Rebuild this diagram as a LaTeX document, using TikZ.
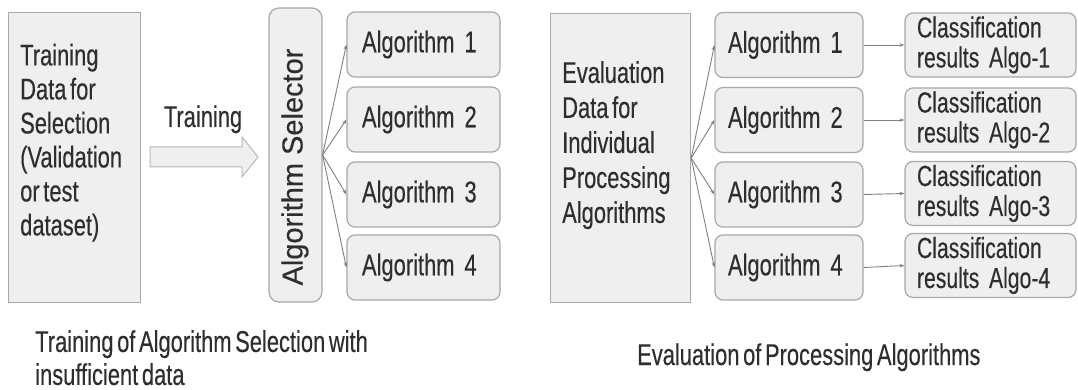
\documentclass[tikz,border=0pt]{standalone}
\usepackage{fontspec}
\setmainfont{Liberation Sans}[FakeStretch=0.73, FakeBold=0.3, WordSpace=0.6]
\newfontfamily\selfont{Liberation Sans}[FakeBold=0.3]
\usetikzlibrary{arrows.meta}
\definecolor{boxfill}{HTML}{EFEFEF}
\definecolor{boxline}{HTML}{A8A8A8}
\definecolor{txtcol}{HTML}{2E2E2E}
\definecolor{conncol}{HTML}{808080}
\tikzset{
  plainbox/.style={draw=boxline, fill=boxfill, line width=1.2pt, inner sep=0pt, anchor=north west},
  roundbox/.style={draw=boxline, fill=boxfill, line width=1.2pt, rounded corners=8pt, inner ysep=0pt, align=left, text=txtcol},
  algbox/.style={roundbox, minimum width=153pt, minimum height=65pt, inner xsep=15pt, text width=123pt, font=\fontsize{30}{34}\selectfont},
  algboxr/.style={roundbox, minimum width=148pt, minimum height=65pt, inner xsep=13pt, text width=122pt, font=\fontsize{30}{34}\selectfont},
  clsbox/.style={roundbox, minimum width=171pt, minimum height=64pt, inner xsep=12pt, text width=147pt, font=\fontsize{29}{30}\selectfont},
  txt/.style={inner sep=0pt, align=left, text=txtcol, font=\fontsize{30}{34}\selectfont},
  conn/.style={draw=conncol, line width=0.9pt, -{Stealth[length=5pt,width=3.5pt]}},
  blockarrow/.style={draw=boxline!80, fill=boxfill, line width=1pt},
}
\begin{document}
\begin{tikzpicture}[x=1pt,y=-1pt]
\useasboundingbox (0,0) rectangle (1078,390);
% left data box
\node[plainbox, minimum width=132pt, minimum height=290pt] (train) at (8,12) {};
\node[txt, anchor=north west] (traintxt) at (20,43.5) {Training\\Data for\\Selection\\(Validation\\or test\\dataset)};
% training arrow
\draw[blockarrow] (150,147) -- (242,147) -- (242,137) -- (258,157) -- (242,177) -- (242,167) -- (150,167) -- cycle;
\node[txt, anchor=base] (trainlbl) at (203,127) {Training};
% selector
\node[draw=boxline, fill=boxfill, line width=1.2pt, rounded corners=10pt, minimum width=53pt, minimum height=294pt, inner sep=0pt] (sel) at (295.5,155) {};
\node[inner sep=0pt, rotate=90, text=txtcol, font=\selfont\fontsize{29}{34}\selectfont] (seltxt) at (295,167) {Algorithm Selector};
% algorithm boxes (left)
\node[algbox] (a1) at (423.5,44.5) {Algorithm 1};
\node[algbox] (a2) at (423.5,119.5) {Algorithm 2};
\node[algbox] (a3) at (423.5,194.5) {Algorithm 3};
\node[algbox] (a4) at (423.5,267.5) {Algorithm 4};
\foreach \i in {1,2,3,4} \draw[conn] (sel.east) -- (a\i.west);
% evaluation box
\node[plainbox, minimum width=140pt, minimum height=289pt] (eval) at (550,13) {};
\node[txt, anchor=north west, font=\fontsize{30}{35}\selectfont] (evaltxt) at (562,61) {Evaluation\\Data for\\Individual\\Processing\\Algorithms};
% algorithm boxes (right)
\node[algboxr] (b1) at (789,45) {Algorithm 1};
\node[algboxr] (b2) at (789,120) {Algorithm 2};
\node[algboxr] (b3) at (789,194.5) {Algorithm 3};
\node[algboxr] (b4) at (789,267.5) {Algorithm 4};
\foreach \i in {1,2,3,4} \draw[conn] (eval.east) -- (b\i.west);
% classification boxes
\node[clsbox] (c1) at (990.5,45) {Classification\\results Algo-1};
\node[clsbox] (c2) at (990.5,120) {Classification\\results Algo-2};
\node[clsbox] (c3) at (990.5,193.5) {Classification\\results Algo-3};
\node[clsbox] (c4) at (990.5,265.5) {Classification\\results Algo-4};
\foreach \i in {1,2,3,4} \draw[conn] (b\i.east) -- (c\i.west);
% captions
\node[txt, anchor=north west, font=\fontsize{30}{33}\selectfont] (cap1) at (35,330) {Training of Algorithm Selection with\\insufficient data};
\node[txt, anchor=base west] (cap2) at (637,365) {Evaluation of Processing Algorithms};
\end{tikzpicture}
\end{document}
